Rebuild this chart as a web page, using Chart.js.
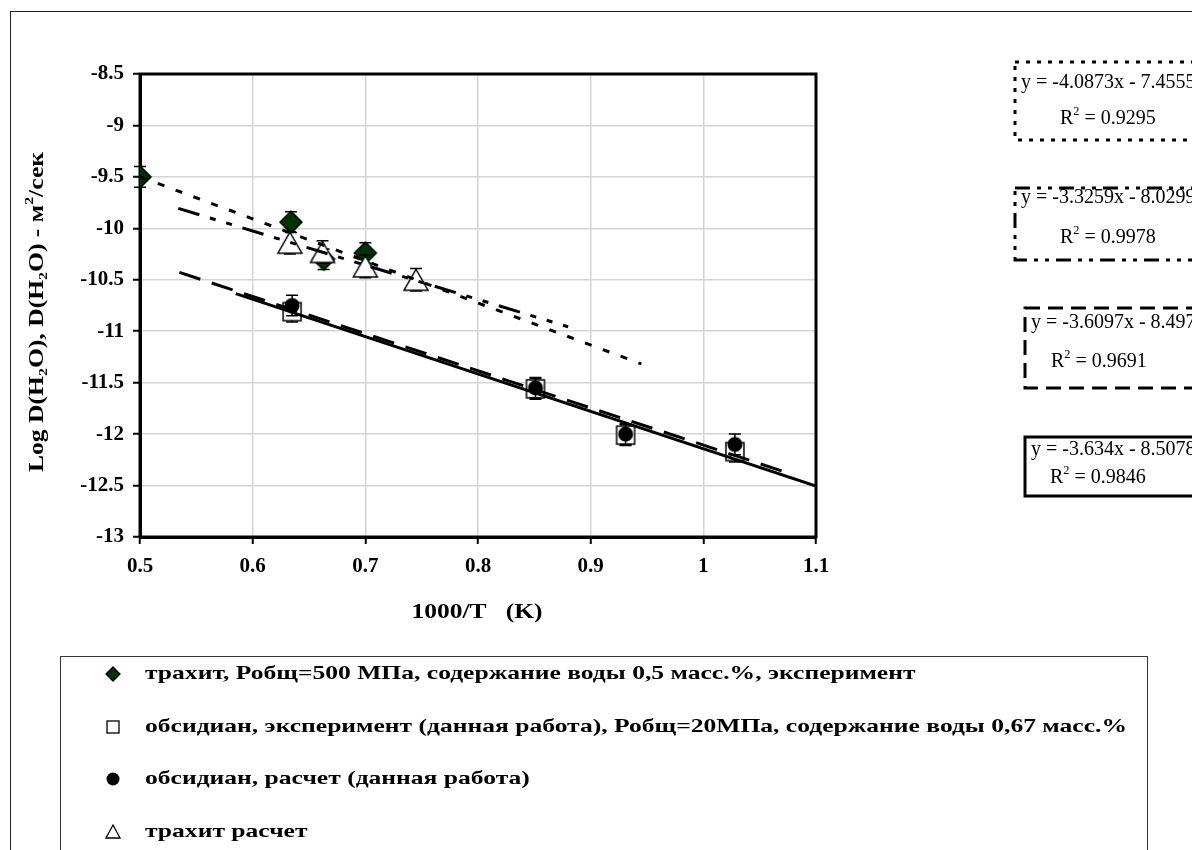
<!DOCTYPE html>
<html>
<head>
<meta charset="utf-8">
<script src="https://cdn.jsdelivr.net/npm/chart.js@4.4.1/dist/chart.umd.min.js"></script>
<style>
  html, body { margin: 0; padding: 0; background: #fff; }
  #wrap { width: 1192px; height: 850px; }
</style>
</head>
<body>
<div id="wrap"><canvas id="chart" width="1192" height="850"></canvas></div>
<script>
// ---- data ----
const xTickValues = [0.5, 0.6, 0.7, 0.8, 0.9, 1.0, 1.1];
const xTickLabels = ['0.5', '0.6', '0.7', '0.8', '0.9', '1', '1.1'];
const yTickValues = [-13, -12.5, -12, -11.5, -11, -10.5, -10, -9.5, -9, -8.5];
const yTickLabels = ['-13', '-12.5', '-12', '-11.5', '-11', '-10.5', '-10', '-9.5', '-9', '-8.5'];

// trachyte, experiment (diamonds)
const trachExpX = [0.5, 0.634, 0.663, 0.700];
const trachExpY = [-9.50, -9.94, -10.30, -10.24];
const trachExpErr = [0.1, 0.1, 0.1, 0.1];

// obsidian, experiment (squares)
const obsExpX = [0.635, 0.851, 0.931, 1.028];
const obsExpY = [-10.81, -11.56, -12.01, -12.17];
const obsExpErr = [0.1, 0.1, 0.1, 0.1];

// obsidian, calculation (circles)
const obsCalcX = [0.635, 0.851, 0.931, 1.028];
const obsCalcY = [-10.75, -11.55, -12.00, -12.10];
const obsCalcErr = [0.1, 0.1, 0.1, 0.1];

// trachyte, calculation (triangles)
const trachCalcX = [0.633, 0.662, 0.700, 0.745];
const trachCalcY = [-10.14, -10.23, -10.37, -10.50];
const trachCalcErr = [0.11, 0.11, 0.11, 0.11];

// trend lines (end points)
const dottedX = [0.5, 0.945];
const dottedY = [-9.499, -11.318];
const dashDotX = [0.534, 0.88];
const dashDotY = [-9.806, -10.957];
const longDashX = [0.535, 1.07];
const longDashY = [-10.428, -12.359];
const solidX = [0.585, 1.1];
const solidY = [-10.634, -12.505];

// trend equation labels
const eqLines = ['y = -4.0873x - 7.4555', 'y = -3.3259x - 8.0299', 'y = -3.6097x - 8.497', 'y = -3.634x - 8.5078'];
const r2Values = ['0.9295', '0.9978', '0.9691', '0.9846'];

const legendLabels = [
  'трахит, Робщ=500 МПа, содержание воды 0,5 масс.%, эксперимент',
  'обсидиан, эксперимент (данная работа), Робщ=20МПа, содержание воды 0,67 масс.%',
  'обсидиан, расчет (данная работа)',
  'трахит расчет'
];

const SERIF = "'Liberation Serif', 'Times New Roman', serif";

function toPoints(xs, ys) {
  return xs.map((x, i) => ({ x: x, y: ys[i] }));
}

// Marker images (drawn centered on the point)
function makeMarker(kind) {
  const c = document.createElement('canvas');
  const g = c.getContext('2d');
  if (kind === 'diamond') {
    c.width = 26; c.height = 26;
    g.beginPath();
    g.moveTo(13, 2); g.lineTo(24, 13); g.lineTo(13, 24); g.lineTo(2, 13); g.closePath();
    g.fillStyle = '#003300'; g.fill();
    g.lineWidth = 1.5; g.strokeStyle = '#000'; g.stroke();
  } else if (kind === 'square') {
    c.width = 22; c.height = 22;
    g.fillStyle = '#fff'; g.fillRect(2, 2, 18, 18);
    g.lineWidth = 1.5; g.strokeStyle = '#000'; g.strokeRect(2, 2, 18, 18);
  } else if (kind === 'circle') {
    c.width = 18; c.height = 18;
    g.beginPath(); g.arc(9, 9, 7.5, 0, Math.PI * 2);
    g.fillStyle = '#000'; g.fill();
  } else if (kind === 'triangle') {
    c.width = 28; c.height = 25;
    g.beginPath();
    g.moveTo(14, 2); g.lineTo(26, 23); g.lineTo(2, 23); g.closePath();
    g.fillStyle = '#fff'; g.fill();
    g.lineWidth = 1.5; g.strokeStyle = '#000'; g.stroke();
  }
  return c;
}

// text with sub/superscripts, parts = [[text, mode]] mode: 0 normal, 1 sub, 2 sup
function richWidth(ctx, parts, size, weight) {
  let w = 0;
  parts.forEach(p => {
    const s = p[1] ? size * 0.62 : size;
    ctx.font = weight + ' ' + s + 'px ' + SERIF;
    w += ctx.measureText(p[0]).width;
  });
  return w;
}

function drawRich(ctx, parts, x, y, size, weight) {
  let cx = x;
  ctx.textBaseline = 'middle';
  ctx.textAlign = 'left';
  parts.forEach(p => {
    const s = p[1] ? size * 0.62 : size;
    ctx.font = weight + ' ' + s + 'px ' + SERIF;
    let dy = 0;
    if (p[1] === 1) dy = size * 0.28;
    if (p[1] === 2) dy = -size * 0.38;
    ctx.fillText(p[0], cx, y + dy);
    cx += ctx.measureText(p[0]).width;
  });
}

// draw rich text centered at (cx, cy) stretched to a target width
function drawFitted(ctx, parts, cx, cy, size, weight, target, angle) {
  const w = richWidth(ctx, parts, size, weight);
  const sx = target ? target / w : 1;
  ctx.save();
  ctx.translate(cx, cy);
  if (angle) ctx.rotate(angle);
  ctx.scale(sx, 1);
  drawRich(ctx, parts, -w / 2, 0, size, weight);
  ctx.restore();
}

const errorBarPlugin = {
  id: 'errorBars',
  beforeDatasetDraw(chart, args) {
    const ds = chart.data.datasets[args.index];
    if (!ds.errorBars) return;
    const ctx = chart.ctx;
    const yScale = chart.scales.y;
    ctx.save();
    ctx.strokeStyle = '#000';
    ctx.lineWidth = 1.5;
    args.meta.data.forEach((el, i) => {
      const v = ds.data[i].y;
      const e = ds.errorBars[i];
      const top = yScale.getPixelForValue(v + e);
      const bot = yScale.getPixelForValue(v - e);
      ctx.beginPath();
      ctx.moveTo(el.x, top); ctx.lineTo(el.x, bot);
      ctx.moveTo(el.x - 6, top); ctx.lineTo(el.x + 6, top);
      ctx.moveTo(el.x - 6, bot); ctx.lineTo(el.x + 6, bot);
      ctx.stroke();
    });
    ctx.restore();
  }
};

const decorPlugin = {
  id: 'decor',
  beforeDraw(chart) {
    const ctx = chart.ctx;
    ctx.save();
    ctx.fillStyle = '#fff';
    ctx.fillRect(0, 0, chart.width, chart.height);
    // outer chart border
    ctx.strokeStyle = '#222';
    ctx.lineWidth = 1;
    ctx.strokeRect(10.5, 11.5, 1400, 1000);
    ctx.restore();
  },
  beforeDatasetsDraw(chart) {
    // plot frame
    const a = chart.chartArea;
    const ctx = chart.ctx;
    ctx.save();
    ctx.strokeStyle = '#000';
    ctx.lineWidth = 3;
    ctx.strokeRect(a.left, a.top, a.right - a.left, a.bottom - a.top);
    ctx.restore();
  },
  afterDraw(chart) {
    const ctx = chart.ctx;
    ctx.save();
    ctx.fillStyle = '#000';

    // axis titles
    drawFitted(ctx, [['Log D(H', 0], ['2', 1], ['O), D(H', 0], ['2', 1], ['O) - м', 0], ['2', 2], ['/сек', 0]],
      38, 312, 21, 'bold', 320, -Math.PI / 2);
    drawFitted(ctx, [['1000/T   (K)', 0]], 477, 612, 22, 'bold', 131, 0);

    // legend box
    ctx.strokeStyle = '#333';
    ctx.lineWidth = 1;
    ctx.strokeRect(60.5, 656.5, 1087, 300);
    const rowY = [674, 727, 779, 832];
    const mx = 113;
    // markers
    ctx.lineWidth = 1.3;
    ctx.strokeStyle = '#000';
    ctx.beginPath();
    ctx.moveTo(mx, rowY[0] - 7); ctx.lineTo(mx + 7, rowY[0]); ctx.lineTo(mx, rowY[0] + 7); ctx.lineTo(mx - 7, rowY[0]); ctx.closePath();
    ctx.fillStyle = '#003300'; ctx.fill(); ctx.stroke();
    ctx.fillStyle = '#fff';
    ctx.fillRect(mx - 6, rowY[1] - 6, 12, 12);
    ctx.strokeRect(mx - 6, rowY[1] - 6, 12, 12);
    ctx.beginPath(); ctx.arc(mx, rowY[2], 6.5, 0, Math.PI * 2);
    ctx.fillStyle = '#000'; ctx.fill();
    ctx.beginPath();
    ctx.moveTo(mx, rowY[3] - 7); ctx.lineTo(mx + 7, rowY[3] + 6); ctx.lineTo(mx - 7, rowY[3] + 6); ctx.closePath();
    ctx.fillStyle = '#fff'; ctx.fill(); ctx.stroke();

    // legend texts, stretched like the original
    ctx.fillStyle = '#000';
    ctx.font = 'bold 19px ' + SERIF;
    const sx = 982 / ctx.measureText(legendLabels[1]).width;
    legendLabels.forEach((t, i) => {
      ctx.save();
      ctx.translate(145, rowY[i]);
      ctx.scale(sx, 1);
      ctx.font = 'bold 19px ' + SERIF;
      ctx.textAlign = 'left';
      ctx.textBaseline = 'middle';
      ctx.fillText(t, 0, 0);
      ctx.restore();
    });

    // trend equation boxes
    const boxes = [
      { x: 1015, y: 62, h: 78, dash: [4, 7], ty: 83, rx: 1060, ry: 119, ex: 1021 },
      { x: 1015, y: 188, h: 72, dash: [15, 7, 4, 7, 4, 7], ty: 198, rx: 1060, ry: 238, ex: 1021 },
      { x: 1025, y: 308, h: 80, dash: [15, 8], ty: 323, rx: 1051, ry: 362, ex: 1031 },
      { x: 1025, y: 437, h: 59, dash: [], ty: 450, rx: 1050, ry: 478, ex: 1031 }
    ];
    boxes.forEach((b, i) => {
      ctx.save();
      ctx.strokeStyle = '#000';
      ctx.lineWidth = 3;
      ctx.setLineDash(b.dash);
      ctx.strokeRect(b.x, b.y, 300, b.h);
      ctx.restore();
      drawRich(ctx, [[eqLines[i], 0]], b.ex, b.ty, 20, 'normal');
      drawRich(ctx, [['R', 0], ['2', 2], [' = ' + r2Values[i], 0]], b.rx, b.ry, 20, 'normal');
    });
    ctx.restore();
  }
};

const tickFont = { family: SERIF, size: 21, weight: 'bold' };

const datasets = [
  { type: 'line', data: toPoints(solidX, solidY), borderColor: '#000', borderWidth: 3, borderDash: [],
    showLine: true, pointRadius: 0, fill: false, tension: 0 },
  { type: 'line', data: toPoints(longDashX, longDashY), borderColor: '#000', borderWidth: 3, borderDash: [22, 12],
    showLine: true, pointRadius: 0, fill: false, tension: 0 },
  { type: 'line', data: toPoints(dashDotX, dashDotY), borderColor: '#000', borderWidth: 3, borderDash: [22, 11, 6, 11, 6, 11],
    showLine: true, pointRadius: 0, fill: false, tension: 0 },
  { type: 'line', data: toPoints(dottedX, dottedY), borderColor: '#000', borderWidth: 3, borderDash: [7, 12],
    showLine: true, pointRadius: 0, fill: false, tension: 0 },
  { label: legendLabels[3], data: toPoints(trachCalcX, trachCalcY), errorBars: trachCalcErr,
    pointStyle: makeMarker('triangle'), pointRadius: 12 },
  { label: legendLabels[2], data: toPoints(obsCalcX, obsCalcY), errorBars: obsCalcErr,
    pointStyle: makeMarker('circle'), pointRadius: 8 },
  { label: legendLabels[1], data: toPoints(obsExpX, obsExpY), errorBars: obsExpErr,
    pointStyle: makeMarker('square'), pointRadius: 10 },
  { label: legendLabels[0], data: toPoints(trachExpX, trachExpY), errorBars: trachExpErr,
    pointStyle: makeMarker('diamond'), pointRadius: 11 }
];

new Chart(document.getElementById('chart'), {
  type: 'scatter',
  data: { datasets: datasets },
  plugins: [decorPlugin, errorBarPlugin],
  options: {
    responsive: false,
    animation: false,
    devicePixelRatio: 1,
    layout: { padding: { top: 74, right: 376, bottom: 0, left: 0 } },
    plugins: { legend: { display: false }, tooltip: { enabled: false } },
    scales: {
      x: {
        type: 'linear', min: 0.5, max: 1.1,
        afterFit(scale) { scale.height = 313; },
        afterBuildTicks(scale) { scale.ticks = xTickValues.map(v => ({ value: v })); },
        ticks: { color: '#000', font: tickFont, padding: 10, maxRotation: 0,
          callback: (v, i) => xTickLabels[i] },
        grid: { color: '#d4d4d4', lineWidth: 1.5, tickLength: 7, tickColor: '#000', tickWidth: 2 },
        border: { color: '#000', width: 3 }
      },
      y: {
        type: 'linear', min: -13, max: -8.5,
        afterFit(scale) { scale.width = 140; },
        afterBuildTicks(scale) { scale.ticks = yTickValues.map(v => ({ value: v })); },
        ticks: { color: '#000', font: tickFont, padding: 9,
          callback: (v, i) => yTickLabels[i] },
        grid: { color: '#d4d4d4', lineWidth: 1.5, tickLength: 7, tickColor: '#000', tickWidth: 2 },
        border: { color: '#000', width: 3 }
      }
    }
  }
});
</script>
</body>
</html>
